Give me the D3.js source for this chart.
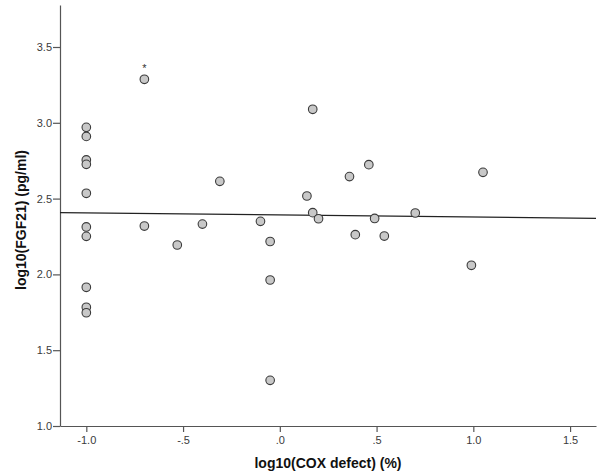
<!DOCTYPE html>
<html>
<head>
<meta charset="utf-8">
<script src="https://cdn.jsdelivr.net/npm/d3@7"></script>
<style>
html,body{margin:0;padding:0;background:#fff;}
svg{display:block;}
</style>
</head>
<body>
<svg id="chart" width="600" height="472"></svg>
<script>
// Data
const cox = [-1.0,-1.0,-1.0,-1.0,-1.0,-1.0,-1.0,-1.0,-1.0,-1.0,
  -0.70,-0.70,-0.53,-0.40,-0.31,-0.10,-0.05,-0.05,-0.05,
  0.14,0.17,0.17,0.20,0.36,0.39,0.46,0.49,0.54,0.70,0.99,1.05];
const fgf = [2.97,2.91,2.755,2.726,2.535,2.313,2.251,1.915,1.783,1.747,
  3.287,2.319,2.194,2.332,2.614,2.350,2.217,1.963,1.301,
  2.517,3.089,2.407,2.367,2.645,2.262,2.724,2.369,2.253,2.405,2.060,2.673];
const outlierIndex = [10]; // marked with "*"
const fitIntercept = 2.392;
const fitSlope = -0.0134;
const xTicks = [-1.0,-0.5,0.0,0.5,1.0,1.5];
const xTickLabels = ["-1.0","-.5",".0",".5","1.0","1.5"];
const yTicks = [1.0,1.5,2.0,2.5,3.0,3.5];
const yTickLabels = ["1.0","1.5","2.0","2.5","3.0","3.5"];
const xTitle = "log10(COX defect) (%)";
const yTitle = "log10(FGF21) (pg/ml)";

const svg = d3.select("#chart");
const mLeft = 60, mRight = 596, mTop = 5, mBottom = 426;
const x = d3.scaleLinear().domain([-1.136, 1.634]).range([mLeft, mRight]);
const y = d3.scaleLinear().domain([1.0, 3.777]).range([mBottom, mTop]);

const font = "'Liberation Sans', Arial, sans-serif";

// Axes
const xAxis = d3.axisBottom(x).tickValues(xTicks)
  .tickFormat((d,i)=>xTickLabels[i]).tickSize(6).tickSizeOuter(0);
const yAxis = d3.axisLeft(y).tickValues(yTicks)
  .tickFormat((d,i)=>yTickLabels[i]).tickSize(7).tickSizeOuter(0);

const gx = svg.append("g").attr("transform",`translate(0,${mBottom})`).call(xAxis);
const gy = svg.append("g").attr("transform",`translate(${mLeft},0)`).call(yAxis);
[gx,gy].forEach(g=>{
  g.select(".domain").attr("stroke","#555").attr("stroke-width",1.2);
  g.selectAll(".tick line").attr("stroke","#555").attr("stroke-width",1.2);
  g.selectAll(".tick text").attr("fill","#3a3a3a").style("font-family",font).style("font-size","11px");
});
gx.selectAll(".tick text").attr("dy","0.9em").attr("y",8);
gy.selectAll(".tick text").attr("x",-8);

// Fit line
const xd = x.domain();
svg.append("line")
  .attr("x1", x(xd[0])).attr("y1", y(fitIntercept + fitSlope*xd[0]))
  .attr("x2", x(xd[1])).attr("y2", y(fitIntercept + fitSlope*xd[1]))
  .attr("stroke","#222").attr("stroke-width",1.3);

// Points
svg.append("g").selectAll("circle")
  .data(cox.map((c,i)=>({c, f:fgf[i], i})))
  .join("circle")
  .attr("cx", d=>x(d.c)).attr("cy", d=>y(d.f)).attr("r",4.3)
  .attr("fill","#c8c8c8").attr("stroke","#3a3a3a").attr("stroke-width",1.1);

// Outlier marker
svg.append("g").selectAll("text")
  .data(outlierIndex)
  .join("text")
  .attr("x", i=>x(cox[i])).attr("y", i=>y(fgf[i]) - 7)
  .attr("text-anchor","middle")
  .style("font-family",font).style("font-size","11px").attr("fill","#333")
  .text("*");

// Titles
svg.append("text")
  .attr("x",(mLeft+mRight)/2).attr("y",468)
  .attr("text-anchor","middle")
  .style("font-family",font).style("font-size","14px").style("font-weight","bold")
  .attr("fill","#111").text(xTitle);

svg.append("text")
  .attr("transform",`translate(26,220) rotate(-90)`)
  .attr("text-anchor","middle")
  .style("font-family",font).style("font-size","14px").style("font-weight","bold")
  .attr("fill","#111").text(yTitle);
</script>
</body>
</html>
